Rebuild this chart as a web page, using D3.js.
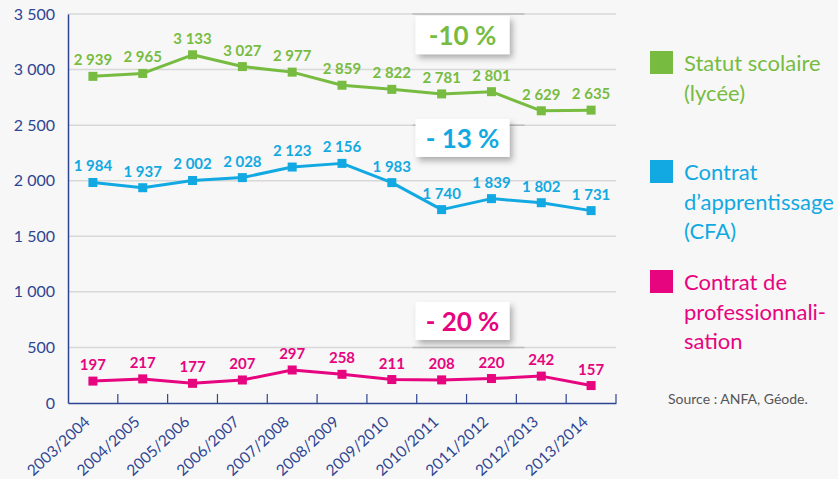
<!DOCTYPE html>
<html><head><meta charset="utf-8">
<script src="https://cdn.jsdelivr.net/npm/d3@7"></script>
<style>
html,body{margin:0;padding:0;background:#f7f7f7;}
svg{display:block;font-family:Lato,"Open Sans",sans-serif;}
</style></head>
<body>
<script>
const categories = ["2003/2004","2004/2005","2005/2006","2006/2007","2007/2008","2008/2009","2009/2010","2010/2011","2011/2012","2012/2013","2013/2014"];
const statutScolaire = [2939,2965,3133,3027,2977,2859,2822,2781,2801,2629,2635];
const apprentissage = [1984,1937,2002,2028,2123,2156,1983,1740,1839,1802,1731];
const professionnalisation = [197,217,177,207,297,258,211,208,220,242,157];
const yTickValues = [0,500,1000,1500,2000,2500,3000,3500];
const seriesNames = [["Statut scolaire","(lycée)"],["Contrat","d\u2019apprentissage","(CFA)"],["Contrat de","professionnali-","sation"]];
const seriesColors = ["#77bc41","#12a9e2","#e6047f"];
const evolutionLabels = ["-10 %","- 13 %","- 20 %"];
const evolutionY = [3310,2385,738];
const sourceText = "Source : ANFA, Géode.";

const W=838,H=479;
const mLeft=68,mRight=616,mTop=14,mBottom=403;
const navy="#2e4592";
const svg=d3.select("body").append("svg").attr("width",W).attr("height",H);
const defs=svg.append("defs");
const f=defs.append("filter").attr("id","sh").attr("x","-20%").attr("y","-30%").attr("width","150%").attr("height","180%");
f.append("feDropShadow").attr("dx",3).attr("dy",4).attr("stdDeviation",3).attr("flood-color","#000").attr("flood-opacity",0.3);

const x=d3.scaleBand().domain(categories).range([mLeft,mRight]);
const y=d3.scaleLinear().domain([0,3500]).range([mBottom,mTop]);
const fmt=d3.formatLocale({decimal:",",thousands:" ",grouping:[3],currency:["",""]}).format(",");

// gridlines
svg.append("g").selectAll("line").data(yTickValues.filter(v=>v>0)).join("line")
 .attr("x1",mLeft).attr("x2",mRight).attr("y1",d=>y(d)).attr("y2",d=>y(d))
 .attr("stroke","#d8d8d8").attr("stroke-width",1.5);

// y axis
const ya=svg.append("g").attr("transform",`translate(${mLeft},0)`)
 .call(d3.axisLeft(y).tickValues(yTickValues).tickSize(0).tickPadding(13).tickFormat(d=>fmt(d)));
ya.select(".domain").attr("stroke",navy).attr("stroke-width",1.5);
ya.selectAll("text").attr("fill",navy).attr("font-size",16).attr("font-family","Lato,sans-serif");

// x axis
const xa=svg.append("g").attr("transform",`translate(0,${mBottom})`)
 .call(d3.axisBottom(x).tickSize(0).tickSizeOuter(0).tickFormat(d=>d));
xa.select(".domain").attr("stroke",navy).attr("stroke-width",1.5);
xa.selectAll(".tick text").attr("fill",navy).attr("font-size",15.5).attr("font-family","Lato,sans-serif")
 .attr("text-anchor","end").attr("y",0).attr("dy",0)
 .attr("transform","translate(-2,20) rotate(-43)");
const bounds=categories.map(c=>x(c)).concat([x.range()[1]]);
svg.append("g").selectAll("line").data(bounds.slice(1)).join("line")
 .attr("x1",d=>d).attr("x2",d=>d).attr("y1",mBottom).attr("y2",mBottom-9)
 .attr("stroke",navy).attr("stroke-width",1.2);

// evolution boxes
const boxX = (x(categories[7])+x(categories[8])+x.bandwidth())/2 - 4;
const gridForBox=[3500,2500,500];
svg.append("g").selectAll("line").data(gridForBox).join("line")
 .attr("x1",boxX-50).attr("x2",boxX+62).attr("y1",d=>y(d)).attr("y2",d=>y(d))
 .attr("stroke","#bdbdbd").attr("stroke-width",1.5);

const series=[statutScolaire,apprentissage,professionnalisation];
const line=d3.line().x((d,i)=>x(categories[i])+x.bandwidth()/2).y(d=>y(d));
series.forEach((s,k)=>{
  const g=svg.append("g");
  g.append("path").datum(s).attr("d",line).attr("fill","none").attr("stroke",seriesColors[k]).attr("stroke-width",3).attr("stroke-linejoin","round");
  g.selectAll("rect").data(s).join("rect")
   .attr("x",(d,i)=>x(categories[i])+x.bandwidth()/2-4.5).attr("y",d=>y(d)-4.5)
   .attr("width",9).attr("height",9).attr("fill",seriesColors[k]);
  g.selectAll("text").data(s).join("text")
   .attr("x",(d,i)=>x(categories[i])+x.bandwidth()/2).attr("y",d=>y(d)-11)
   .attr("text-anchor","middle").attr("font-size",15).attr("font-weight","bold")
   .attr("fill",seriesColors[k]).text(d=>fmt(d));
});

evolutionLabels.forEach((t,k)=>{
  const cy=y(evolutionY[k]);
  svg.append("rect").attr("x",boxX-47).attr("y",cy-19).attr("width",94).attr("height",38)
   .attr("fill","#fff").attr("filter","url(#sh)");
  svg.append("text").attr("x",boxX).attr("y",cy+10).attr("text-anchor","middle")
   .attr("font-size",26).attr("font-weight","bold").attr("fill",seriesColors[k]).text(t);
});

// legend
const legY=[51,160,270];
seriesNames.forEach((lines,k)=>{
  svg.append("rect").attr("x",650).attr("y",legY[k]).attr("width",23).attr("height",23).attr("fill",seriesColors[k]);
  const t=svg.append("text").attr("x",684).attr("y",legY[k]+20).attr("font-size",22).attr("fill",seriesColors[k]);
  lines.forEach((l,i)=>t.append("tspan").attr("x",684).attr("dy",i?29.5:0).text(l));
});
svg.append("text").attr("x",668).attr("y",404).attr("font-size",14).attr("fill","#555").text(sourceText);
</script>
</body></html>
